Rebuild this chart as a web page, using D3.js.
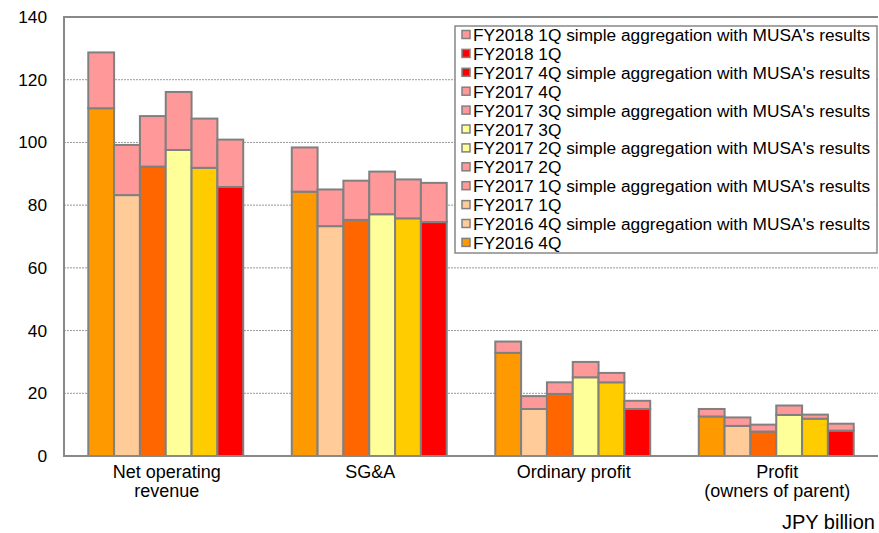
<!DOCTYPE html>
<html>
<head>
<meta charset="utf-8">
<script src="https://cdn.jsdelivr.net/npm/d3@7"></script>
<style>
  body { margin: 0; background: #fff; }
  text { font-family: "Liberation Sans", Arial, sans-serif; fill: #000; }
</style>
</head>
<body>
<div id="chart"></div>
<script>
// data (JPY billion)
var categories = ["Net operating revenue", "SG&A", "Ordinary profit", "Profit (owners of parent)"];
var periods = ["FY2016 4Q", "FY2017 1Q", "FY2017 2Q", "FY2017 3Q", "FY2017 4Q", "FY2018 1Q"];
// stand-alone results, one array per period, in category order
var base = {
  "FY2016 4Q": [110.9, 84.3, 32.9, 12.6],
  "FY2017 1Q": [83.2, 73.3, 15.0, 9.6],
  "FY2017 2Q": [92.3, 75.3, 19.8, 7.8],
  "FY2017 3Q": [97.6, 77.1, 25.1, 13.1],
  "FY2017 4Q": [91.9, 75.8, 23.5, 11.9],
  "FY2018 1Q": [85.8, 74.6, 15.0, 8.1]
};
// simple aggregation with MUSA's results (totals)
var aggregated = {
  "FY2016 4Q": [128.7, 98.4, 36.5, 15.0],
  "FY2017 1Q": [99.2, 85.0, 19.1, 12.3],
  "FY2017 2Q": [108.4, 87.8, 23.5, 10.0],
  "FY2017 3Q": [116.1, 90.7, 30.0, 16.1],
  "FY2017 4Q": [107.6, 88.2, 26.5, 13.2],
  "FY2018 1Q": [100.9, 87.1, 17.6, 10.3]
};
var yTicks = [0, 20, 40, 60, 80, 100, 120, 140];
var legendLabels = [
  "FY2018 1Q simple aggregation with MUSA's results", "FY2018 1Q",
  "FY2017 4Q simple aggregation with MUSA's results", "FY2017 4Q",
  "FY2017 3Q simple aggregation with MUSA's results", "FY2017 3Q",
  "FY2017 2Q simple aggregation with MUSA's results", "FY2017 2Q",
  "FY2017 1Q simple aggregation with MUSA's results", "FY2017 1Q",
  "FY2016 4Q simple aggregation with MUSA's results", "FY2016 4Q"
];

var periodColor = {
  "FY2016 4Q": "#FF9900", "FY2017 1Q": "#FFCC99", "FY2017 2Q": "#FF6600",
  "FY2017 3Q": "#FFFF99", "FY2017 4Q": "#FFCC00", "FY2018 1Q": "#FF0000"
};
var aggColor = "#FF9999";
// swatches as they appear in the original legend
var legendColors = ["#FF9999", "#FF0000", "#FF0000", "#FF9999", "#FF9999", "#FFFF99",
                    "#FFFF99", "#FF9999", "#FF9999", "#FFCC99", "#FFCC99", "#FF9900"];

var W = 879, H = 533;
var mLeft = 64, mRight = 878, mTop = 17, mBottom = 456;

var svg = d3.select("#chart").append("svg")
  .attr("width", W).attr("height", H);

var y = d3.scaleLinear().domain([0, 140]).range([mBottom, mTop]);
var x0 = d3.scaleBand().domain(categories).range([mLeft, mRight]);
var x1 = d3.scaleBand().domain(periods).range([0, x0.bandwidth()])
  .paddingInner(0).paddingOuter(0.94);

// grid
svg.selectAll("line.grid")
  .data(yTicks.filter(function(d) { return d > 0 && d < 140; }))
  .enter().append("line")
    .attr("x1", mLeft).attr("x2", mRight)
    .attr("y1", d => y(d)).attr("y2", d => y(d))
    .attr("stroke", "#999").attr("stroke-width", 1)
    .attr("stroke-dasharray", "2,1");

// y labels
svg.selectAll("text.ytick")
  .data(yTicks)
  .enter().append("text")
    .attr("x", 47).attr("y", d => y(d) + 6)
    .attr("text-anchor", "end")
    .style("font-size", "17.3px")
    .text(d => d);

// bars
var groups = svg.selectAll("g.cat")
  .data(categories)
  .enter().append("g")
    .attr("transform", d => "translate(" + x0(d) + ",0)");

groups.each(function(cat, ci) {
  var g = d3.select(this);
  periods.forEach(function(p) {
    g.append("rect")
      .attr("x", x1(p)).attr("width", x1.bandwidth())
      .attr("y", y(base[p][ci])).attr("height", y(0) - y(base[p][ci]))
      .attr("fill", periodColor[p])
      .attr("stroke", "#808080").attr("stroke-width", 2);
    g.append("rect")
      .attr("x", x1(p)).attr("width", x1.bandwidth())
      .attr("y", y(aggregated[p][ci])).attr("height", y(base[p][ci]) - y(aggregated[p][ci]))
      .attr("fill", aggColor)
      .attr("stroke", "#808080").attr("stroke-width", 2);
  });
});

// plot frame
svg.append("path")
  .attr("d", "M" + mRight + "," + mTop + "H" + mLeft + "V" + mBottom + "H" + mRight)
  .attr("fill", "none").attr("stroke", "#888").attr("stroke-width", 2);

// category labels
var catLines = {
  "Net operating revenue": ["Net operating", "revenue"],
  "SG&A": ["SG&A"],
  "Ordinary profit": ["Ordinary profit"],
  "Profit (owners of parent)": ["Profit", "(owners of parent)"]
};
categories.forEach(function(c) {
  var cx = x0(c) + x0.bandwidth() / 2 + 1;
  var t = svg.append("text")
    .attr("x", cx).attr("y", 478)
    .attr("text-anchor", "middle")
    .style("font-size", "18px");
  catLines[c].forEach(function(l, i) {
    t.append("tspan").attr("x", cx)
      .attr("dy", i === 0 ? 0 : 19).text(l);
  });
});

svg.append("text")
  .attr("x", 875).attr("y", 529)
  .attr("text-anchor", "end")
  .style("font-size", "20px")
  .text("JPY billion");

// legend
var lg = svg.append("g");
lg.append("rect")
  .attr("x", 455).attr("y", 26).attr("width", 422).attr("height", 227)
  .attr("fill", "#fff").attr("stroke", "#888").attr("stroke-width", 1.5);
legendLabels.forEach(function(l, i) {
  var cy = 35 + i * 18.9;
  lg.append("rect")
    .attr("x", 462).attr("y", cy - 4.5).attr("width", 8).attr("height", 8)
    .attr("fill", legendColors[i]).attr("stroke", "#808080").attr("stroke-width", 1.5);
  lg.append("text")
    .attr("x", 473).attr("y", cy + 6)
    .style("font-size", "17.3px")
    .text(l);
});
</script>
</body>
</html>
